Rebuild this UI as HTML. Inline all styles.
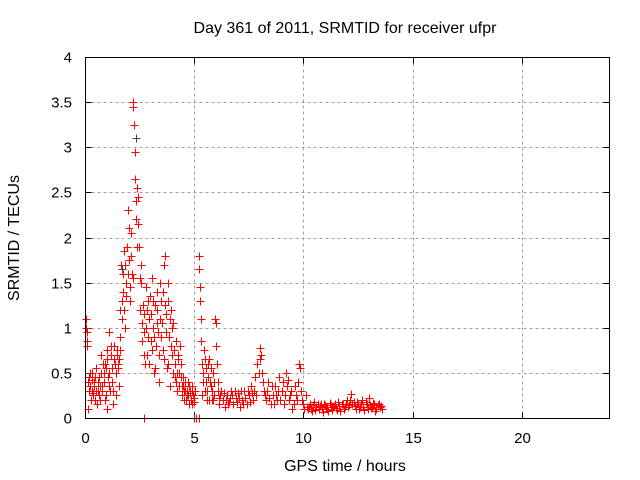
<!DOCTYPE html>
<html><head><meta charset="utf-8"><style>
body{margin:0;background:#fff}
svg{display:block;font-family:"Liberation Sans",sans-serif}
</style></head><body>
<svg id="c" width="640" height="480" viewBox="0 0 640 480">
<rect width="640" height="480" fill="#fff"/>
<text x="345" y="33" font-size="16" text-anchor="middle">Day 361 of 2011, SRMTID for receiver ufpr</text>
<text x="345" y="471" font-size="16" text-anchor="middle">GPS time / hours</text>
<text transform="translate(19,238) rotate(-90)" font-size="16" text-anchor="middle">SRMTID / TECUs</text>
<g id="grid"></g>
<g id="axes"></g>
<g id="marks" shape-rendering="crispEdges"></g>
<rect x="85.5" y="57.5" width="524" height="361" fill="none" stroke="#000" stroke-width="1" shape-rendering="crispEdges"/>
</svg>
<script>
const xTicks=[0,5,10,15,20];
const yTicks=[0,0.5,1,1.5,2,2.5,3,3.5,4];
const yTickLabels=["0","0.5","1","1.5","2","2.5","3","3.5","4"];
const darkT=[2.3,2.35,5.2,1.7];
const darkV=[2.65,3.1,1.8,1.65];
const redT=[0.05,0.05,0.08,0.1,0.1,0.15,0.2,0.25,0.3,0.3,0.35,0.4,0.45,0.5,0.55,0.6,0.65,0.7,0.75,0.8,0.85,0.9,0.95,1.0,1.0,1.05,1.1,1.15,1.2,1.25,1.3,1.35,1.4,1.45,1.5,1.55,1.6,
1.6,1.65,1.7,1.75,1.8,1.85,1.9,1.95,2.0,2.05,2.1,2.15,2.2,2.22,2.25,2.28,2.3,2.33,2.35,2.38,2.4,2.45,2.5,2.55,2.6,2.65,2.7,2.75,2.8,
2.85,2.9,2.95,3.0,3.05,3.1,3.15,3.2,3.25,3.3,3.35,3.4,3.45,3.5,3.55,3.6,3.65,3.7,3.75,3.8,3.85,3.9,3.95,4.0,4.05,4.1,4.15,4.2,
4.25,4.3,4.35,4.4,4.45,4.5,4.55,4.6,4.65,4.7,4.75,4.8,4.85,4.9,4.95,5.0,5.05,
5.2,5.22,5.25,5.28,5.3,5.33,5.35,5.4,5.45,5.5,5.55,5.6,5.65,5.7,5.75,5.8,5.85,5.9,5.95,6.0,6.05,6.1,6.15,
6.3,6.4,6.5,6.6,6.7,6.8,6.9,7.0,7.1,7.2,7.3,7.4,7.5,7.6,7.7,7.8,7.9,8.0,8.05,8.1,8.2,8.3,8.4,8.5,8.6,8.7,8.8,8.9,9.0,9.1,9.2,9.3,9.4,9.5,9.6,9.7,9.8,9.85,9.9,10.0,10.1,
10.2,10.3,10.4,10.5,10.6,10.7,10.8,10.9,11.0,11.1,11.2,11.3,11.4,11.5,11.6,11.7,11.8,11.9,12.0,12.1,12.2,12.3,12.4,12.5,12.6,12.7,12.8,12.9,13.0,13.1,13.2,13.3,13.4,13.5,13.6,
2.7,5.0,5.1,5.2];
const redV=[1.1,1.0,0.85,0.8,0.95,0.1,0.45,0.35,0.5,0.3,0.25,0.4,0.2,0.55,0.15,0.3,0.45,0.2,0.7,0.35,0.5,0.6,0.25,0.75,0.1,0.45,0.95,0.3,0.8,0.55,0.15,0.65,0.5,0.7,0.6,0.35,0.75,
1.2,1.7,1.1,1.4,1.85,1.0,1.5,2.3,1.75,1.3,2.05,1.6,3.5,3.45,3.25,2.95,2.65,2.4,2.2,1.9,2.55,2.15,1.55,1.7,1.05,1.25,0.95,0.6,1.45,
0.7,1.3,1.1,0.85,1.55,1.0,0.5,1.25,0.8,1.4,0.95,0.4,1.1,1.3,0.75,1.7,1.8,1.15,0.55,1.5,0.9,0.35,1.2,0.7,1.05,0.45,0.85,0.3,
0.65,0.5,0.8,0.6,0.35,0.45,0.2,0.3,0.25,0.4,0.15,0.3,0.2,0.35,0.25,0.18,0.3,
1.8,1.65,1.45,1.3,1.1,0.85,0.6,0.4,0.75,0.3,0.55,0.2,0.45,0.65,0.35,0.2,0.5,0.25,1.1,1.05,0.6,0.3,0.15,
0.2,0.12,0.25,0.18,0.3,0.15,0.22,0.28,0.12,0.2,0.3,0.15,0.25,0.35,0.2,0.45,0.6,0.78,0.7,0.5,0.3,0.2,0.4,0.15,0.25,0.35,0.2,0.45,0.3,0.15,0.5,0.42,0.25,0.1,0.35,0.2,0.6,0.55,0.3,0.15,0.25,
0.1,0.15,0.08,0.18,0.12,0.1,0.16,0.07,0.14,0.1,0.17,0.09,0.13,0.11,0.18,0.08,0.15,0.12,0.2,0.14,0.27,0.18,0.1,0.16,0.12,0.2,0.09,0.15,0.22,0.11,0.17,0.08,0.14,0.12,0.1,
0,0,0,0];
const red2T=[0.12,0.18,0.22,0.28,0.32,0.38,0.42,0.48,0.52,0.58,0.62,0.68,0.72,0.78,0.82,0.88,0.92,0.98,1.02,1.08,1.12,1.18,1.22,1.28,1.32,1.38,1.42,1.48,1.52,1.58,
1.62,1.68,1.72,1.78,1.82,1.88,1.92,1.98,2.02,2.08,2.12,2.18,2.42,2.48,2.52,2.58,2.62,2.68,2.72,2.78,
2.82,2.88,2.92,2.98,3.02,3.08,3.12,3.18,3.22,3.28,3.32,3.38,3.42,3.48,3.52,3.58,3.62,3.68,3.72,3.78,3.82,3.88,3.92,3.98,4.02,4.08,4.12,4.18,
4.22,4.28,4.32,4.38,4.42,4.48,4.52,4.58,4.62,4.68,4.72,4.78,4.82,4.88,4.92,4.98,
5.38,5.42,5.48,5.52,5.58,5.62,5.68,5.72,5.78,5.82,5.88,5.92,6.02,6.08,6.12,6.2,6.25,
6.35,6.45,6.55,6.65,6.75,6.85,6.95,7.05,7.15,7.25,7.35,7.45,7.55,7.65,7.75,7.85,7.95,8.02,8.15,8.25,8.35,8.45,8.55,8.65,8.75,8.85,8.95,9.05,9.15,9.25,9.35,9.45,9.55,9.65,9.75,9.95,10.05,10.15,
10.25,10.35,10.45,10.55,10.65,10.75,10.85,10.95,11.05,11.15,11.25,11.35,11.45,11.55,11.65,11.75,11.85,11.95,12.05,12.15,12.25,12.35,12.45,12.55,12.65,12.75,12.85,12.95,13.05,13.15,13.25,13.35,13.45,13.55];
const red2V=[0.4,0.3,0.5,0.2,0.42,0.28,0.35,0.45,0.3,0.4,0.25,0.35,0.5,0.3,0.6,0.4,0.2,0.55,0.65,0.35,0.5,0.7,0.4,0.3,0.8,0.6,0.25,0.75,0.55,0.65,
0.9,1.3,1.6,1.2,1.7,1.35,1.9,1.6,2.1,1.45,1.8,1.55,2.45,1.9,1.2,1.5,0.85,1.15,0.7,1.0,
1.2,0.9,0.6,1.35,1.15,0.75,1.3,0.9,0.55,1.05,1.2,0.7,1.5,0.9,1.05,1.4,0.65,1.25,0.95,1.3,0.6,1.1,0.8,1.0,0.5,0.75,0.6,0.4,
0.5,0.7,0.35,0.45,0.25,0.35,0.3,0.4,0.2,0.3,0.25,0.35,0.28,0.15,0.3,0.22,
0.25,0.5,0.65,0.4,0.3,0.6,0.2,0.4,0.55,0.3,0.2,0.4,0.8,0.4,0.22,0.25,0.3,
0.28,0.2,0.15,0.22,0.25,0.3,0.18,0.22,0.3,0.15,0.22,0.3,0.18,0.28,0.3,0.25,0.5,0.65,0.4,0.25,0.3,0.22,0.35,0.15,0.25,0.3,0.2,0.4,0.25,0.35,0.2,0.3,0.15,0.25,0.4,0.2,0.1,0.12,
0.12,0.1,0.14,0.09,0.15,0.13,0.1,0.16,0.12,0.08,0.14,0.12,0.16,0.09,0.13,0.15,0.1,0.16,0.12,0.2,0.15,0.13,0.18,0.1,0.15,0.12,0.18,0.1,0.14,0.12,0.15,0.1,0.16,0.13];
const NS="http://www.w3.org/2000/svg";
const X0=85.5,X1=609.5,Y0=418.5,Y1=57.5;
const sx=t=>X0+t/24*(X1-X0);
const sy=v=>Y0-v/4*(Y0-Y1);
function mk(tag,attrs,parent){const e=document.createElementNS(NS,tag);for(const k in attrs)e.setAttribute(k,attrs[k]);parent.appendChild(e);return e;}
const grid=document.getElementById('grid'),axes=document.getElementById('axes'),marks=document.getElementById('marks');
xTicks.forEach(t=>{const x=Math.round(sx(t)-0.5)+0.5;
 if(t>0){const g=mk('line',{x1:x,x2:x,y1:Y1,y2:Y0,stroke:'#a0a0a0','stroke-dasharray':'3,3','shape-rendering':'crispEdges'},grid);
 
 }
 mk('line',{x1:x,x2:x,y1:Y0,y2:Y0-6,stroke:'#000','shape-rendering':'crispEdges'},axes);
 mk('line',{x1:x,x2:x,y1:Y1,y2:Y1+6,stroke:'#000','shape-rendering':'crispEdges'},axes);
 const l=mk('text',{x:x,y:443,'font-size':15,'text-anchor':'middle'},axes);l.textContent=t;
 
 
});
yTicks.forEach((v,i)=>{const y=Math.round(sy(v)-0.5)+0.5;
 if(v>0&&v<4){const g=mk('line',{x1:X0,x2:X1,y1:y,y2:y,stroke:'#a0a0a0','stroke-dasharray':'3,3','shape-rendering':'crispEdges'},grid);
 
 }
 mk('line',{x1:X0,x2:X0+6,y1:y,y2:y,stroke:'#000','shape-rendering':'crispEdges'},axes);
 mk('line',{x1:X1,x2:X1-6,y1:y,y2:y,stroke:'#000','shape-rendering':'crispEdges'},axes);
 const l=mk('text',{x:72,y:y+5,'font-size':15,'text-anchor':'end'},axes);l.textContent=yTickLabels[i];
 
 
});
function plus(t,v,color,name){const x=Math.round(sx(t)-0.5)+0.5,y=Math.round(sy(v)-0.5)+0.5;
 const p=mk('path',{d:`M${x-4} ${y}H${x+4}M${x} ${y-4}V${y+4}`,stroke:color,'stroke-width':1.2,fill:'none'},marks);
 
 }
darkT.forEach((t,i)=>plus(t,darkV[i],'#444','dark-point'));
redT.forEach((t,i)=>plus(t,redV[i],'#ff0000','srmtid-point'));
red2T.forEach((t,i)=>plus(t,red2V[i],'#ff0000','srmtid-point'));
</script>
</body></html>
